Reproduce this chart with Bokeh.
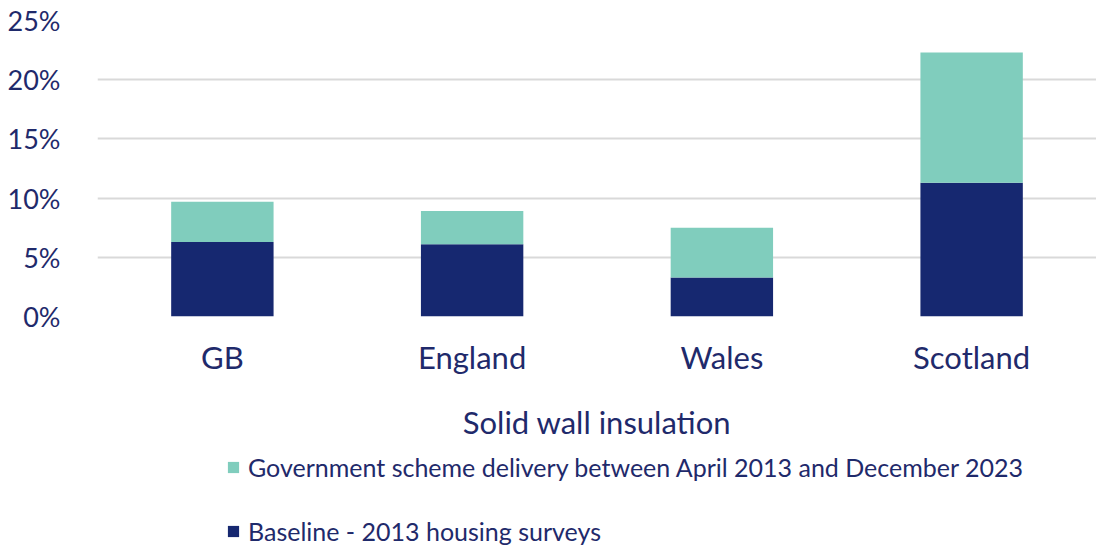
from bokeh.plotting import figure
from bokeh.layouts import column
from bokeh.models import FactorRange, Range1d, FixedTicker, Legend, LegendItem, CustomJSTickFormatter
from bokeh.embed import file_html
from bokeh.resources import INLINE

regions = ["GB", "England", "Wales", "Scotland"]
baseline = [6.3, 6.1, 3.3, 11.3]
delivery = [3.4, 2.8, 4.2, 11.0]
y_ticks = [0, 5, 10, 15, 20, 25]
series_labels = ["Government scheme delivery between April 2013 and December 2023",
                 "Baseline - 2013 housing surveys"]

NAVY = "#162870"
TEAL = "#80CDBD"
TXT = "#1F2A6B"
FONT = "Lato"

data = dict(region=regions, baseline=baseline, delivery=delivery)

p = figure(x_range=FactorRange(*regions, range_padding=0), y_range=Range1d(0, 25),
           width=1096, height=443, output_backend="svg", toolbar_location=None,
           min_border_top=20, min_border_left=97, min_border_right=0, min_border_bottom=127)

rs = p.vbar_stack(["baseline", "delivery"], x="region", width=0.41, source=data,
                  color=[NAVY, TEAL], line_color=None)

p.yaxis.ticker = FixedTicker(ticks=y_ticks)
p.yaxis.formatter = CustomJSTickFormatter(code="return tick + '%';")
p.yaxis.axis_line_color = None
p.yaxis.major_tick_line_color = None
p.yaxis.minor_tick_line_color = None
p.yaxis.major_label_text_font = FONT
p.yaxis.major_label_text_font_size = "27px"
p.yaxis.major_label_text_color = TXT
p.yaxis.major_label_standoff = 31

p.xaxis.axis_line_color = None
p.xaxis.major_tick_line_color = None
p.xaxis.major_label_text_font = FONT
p.xaxis.major_label_text_font_size = "31px"
p.xaxis.major_label_text_color = TXT
p.xaxis.major_label_standoff = 15
p.xaxis.axis_label = "Solid wall insulation"
p.xaxis.axis_label_text_font = FONT
p.xaxis.axis_label_text_font_size = "31px"
p.xaxis.axis_label_text_font_style = "normal"
p.xaxis.axis_label_text_color = TXT
p.xaxis.axis_label_standoff = 24

p.xgrid.grid_line_color = None
p.ygrid.grid_line_color = "#d9d9d9"
p.ygrid.grid_line_width = 2
p.outline_line_color = None

# legend panel: same series drawn into a range where the bars stay out of view,
# only their legend swatches are shown
p2 = figure(width=1096, height=107, output_backend="svg", toolbar_location=None,
            x_range=FactorRange(*regions), y_range=Range1d(100, 101),
            min_border_top=0, min_border_left=97, min_border_right=0, min_border_bottom=0)
p2.axis.visible = False
p2.grid.visible = False
p2.outline_line_color = None
rs2 = p2.vbar_stack(["baseline", "delivery"], x="region", width=0.41, source=data,
                    color=[NAVY, TEAL], line_color=None)

legend = Legend(items=[LegendItem(label=series_labels[0], renderers=[rs2[1]]),
                       LegendItem(label=series_labels[1], renderers=[rs2[0]])],
                location=(129, 4), orientation="vertical", spacing=34,
                label_text_font=FONT, label_text_font_size="25px", label_text_color=TXT,
                glyph_width=14, glyph_height=14, border_line_color=None, background_fill_alpha=0,
                padding=0, margin=0, label_standoff=8)
p2.add_layout(legend, "center")

open("out.html", "w").write(file_html(column(p, p2, spacing=0), INLINE))
